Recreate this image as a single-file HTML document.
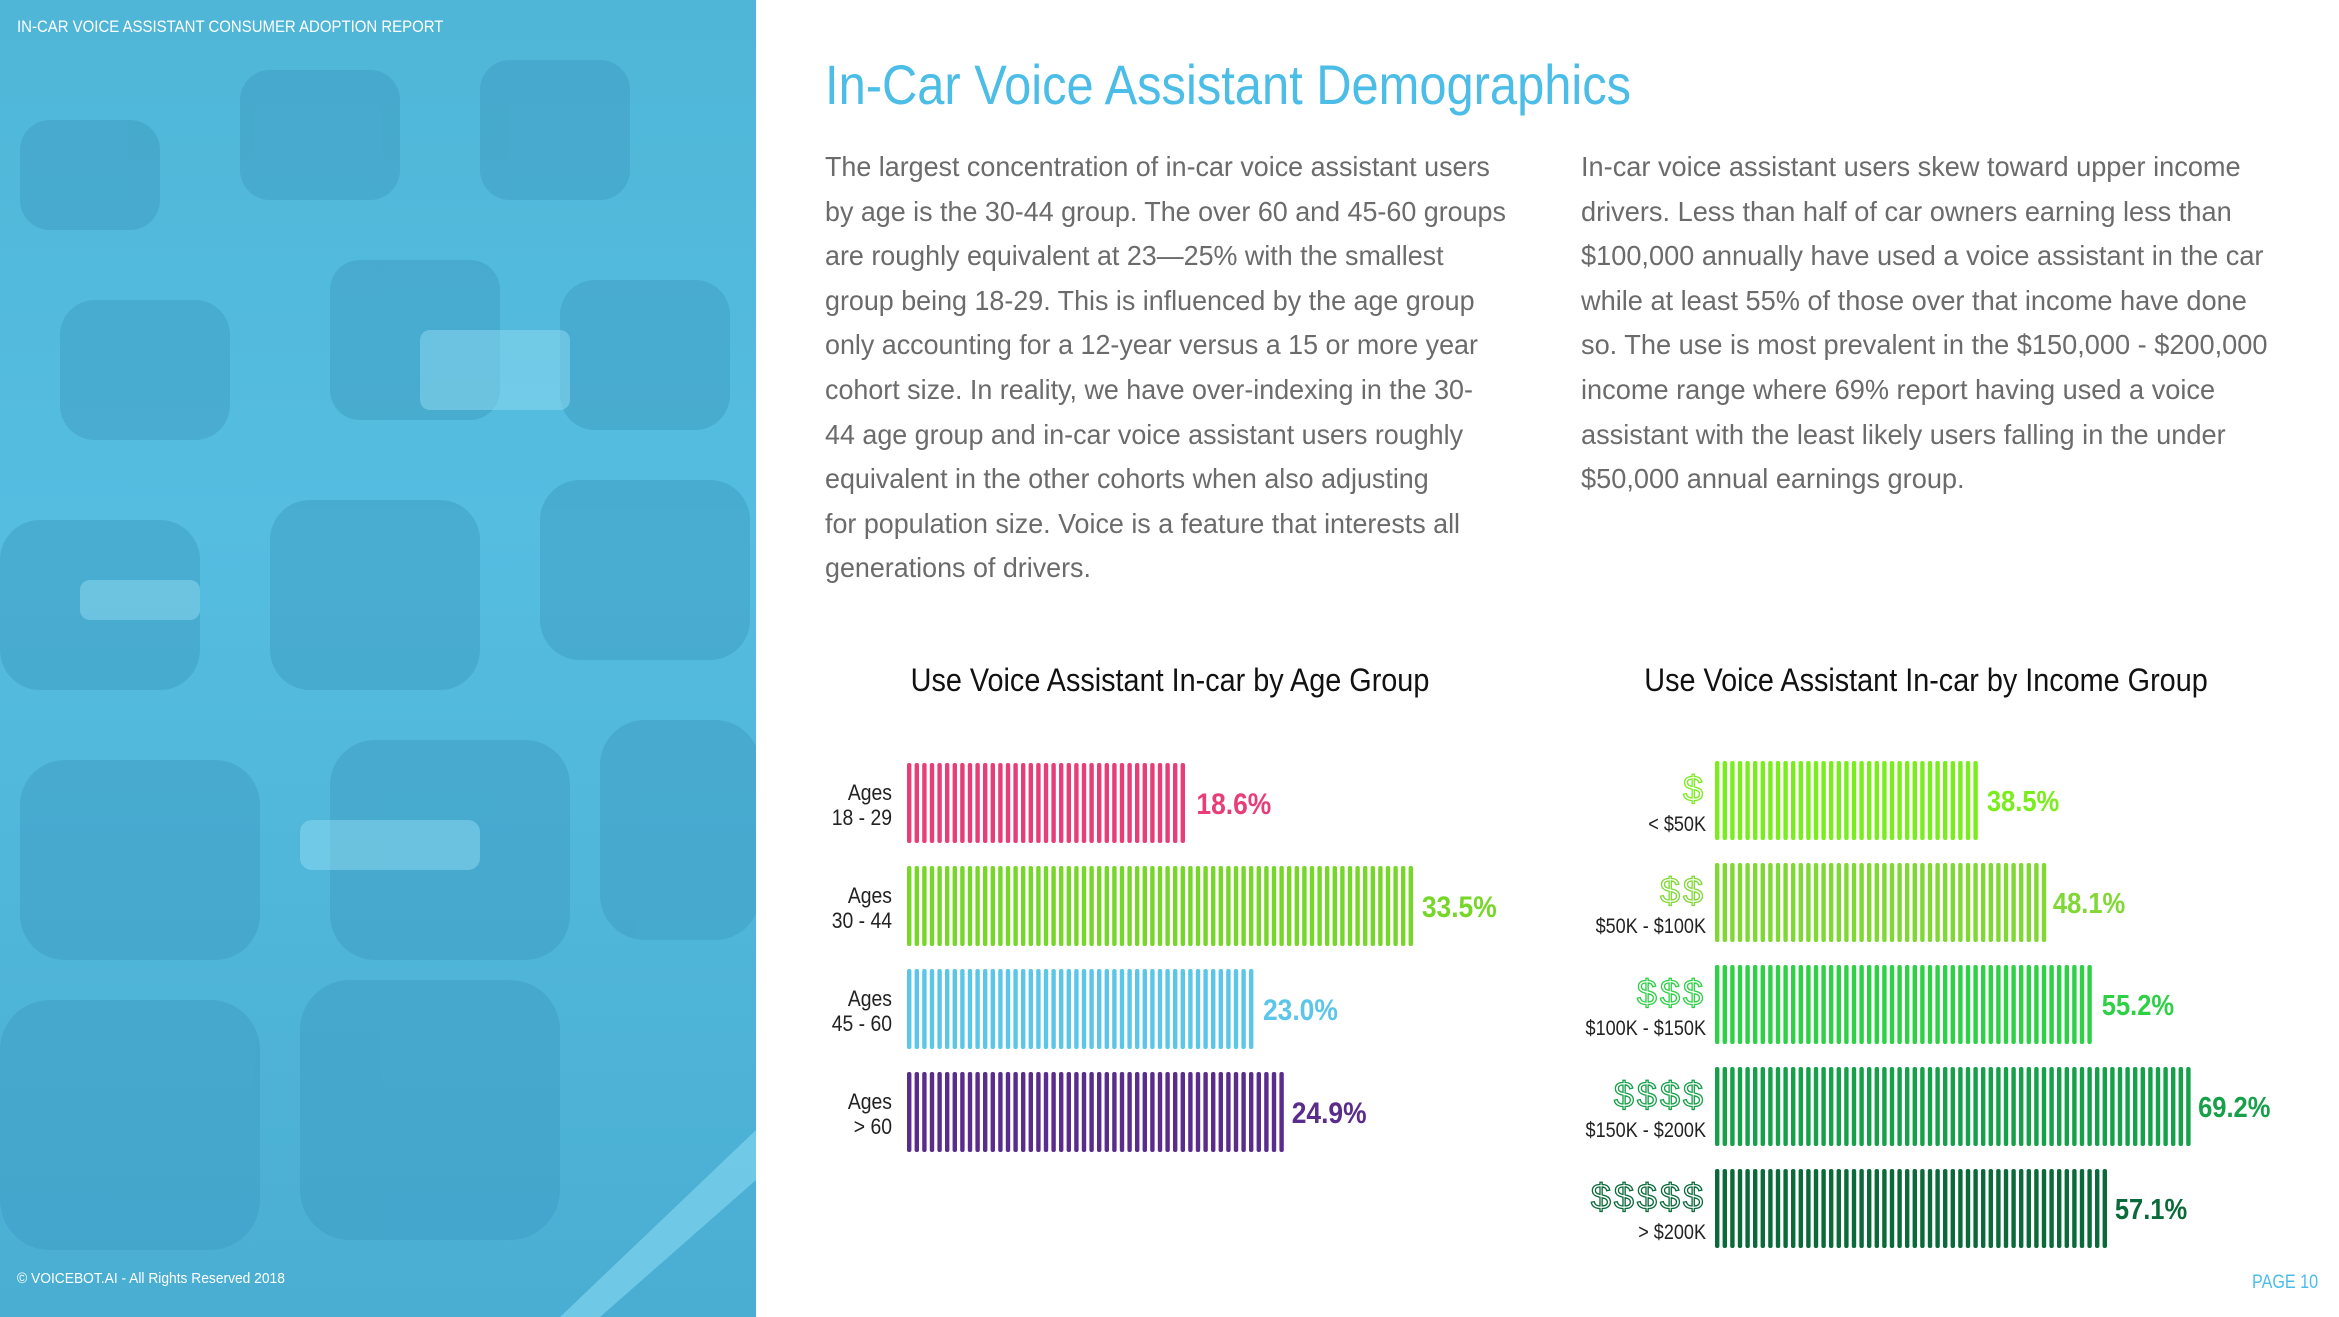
<!DOCTYPE html>
<html><head><meta charset="utf-8">
<style>
html,body{margin:0;padding:0;}
body{width:2339px;height:1317px;position:relative;overflow:hidden;background:#fff;font-family:"Liberation Sans",sans-serif;}
.abs{position:absolute;white-space:nowrap;}
#photo{position:absolute;left:0;top:0;width:756px;height:1317px;background:linear-gradient(180deg,#4fb6d8 0%,#55bde0 40%,#4aaed2 100%);overflow:hidden;}
.body-line{position:absolute;font-size:28px;color:#6b6b6b;font-weight:300;transform-origin:left top;white-space:nowrap;}
.lc{transform:scaleX(0.96);}
.rc{transform:scaleX(0.97);}
</style></head>
<body>
<div id="photo">
<svg width="756" height="1317">
<g fill="#3f9fc4" opacity="0.55">
<rect x="20" y="120" width="140" height="110" rx="30"/><rect x="240" y="70" width="160" height="130" rx="30"/><rect x="480" y="60" width="150" height="140" rx="30"/>
<rect x="60" y="300" width="170" height="140" rx="35"/><rect x="330" y="260" width="170" height="160" rx="30"/><rect x="560" y="280" width="170" height="150" rx="35"/>
<rect x="0" y="520" width="200" height="170" rx="40"/><rect x="270" y="500" width="210" height="190" rx="40"/><rect x="540" y="480" width="210" height="180" rx="40"/>
<rect x="20" y="760" width="240" height="200" rx="45"/><rect x="330" y="740" width="240" height="220" rx="45"/><rect x="600" y="720" width="160" height="220" rx="45"/>
<rect x="0" y="1000" width="260" height="250" rx="50"/><rect x="300" y="980" width="260" height="260" rx="50"/>
</g>
<g fill="#8fdcf2" opacity="0.5">
<rect x="420" y="330" width="150" height="80" rx="10"/><rect x="80" y="580" width="120" height="40" rx="10"/><rect x="300" y="820" width="180" height="50" rx="12"/>
</g>
<polygon points="560,1317 600,1317 756,1180 756,1130" fill="#7fd3ee" opacity="0.7"/>
</svg>
<div class="abs" style="left:17px;top:17px;font-size:17px;color:#fff;transform:scaleX(0.88);transform-origin:left top;">IN-CAR VOICE ASSISTANT CONSUMER ADOPTION REPORT</div>
<div class="abs" style="left:17px;top:1270px;font-size:15px;color:#fff;transform:scaleX(0.92);transform-origin:left top;">© VOICEBOT.AI - All Rights Reserved 2018</div>
</div>

<div class="abs" style="left:825px;top:52px;font-size:56px;color:#4bbde6;transform:scaleX(0.872);transform-origin:left top;">In-Car Voice Assistant Demographics</div>

<div>
<div class="body-line lc" style="left:825px;top:151px">The largest concentration of in-car voice assistant users</div>
<div class="body-line lc" style="left:825px;top:196px">by age is the 30-44 group. The over 60 and 45-60 groups</div>
<div class="body-line lc" style="left:825px;top:240px">are roughly equivalent at 23—25% with the smallest</div>
<div class="body-line lc" style="left:825px;top:285px">group being 18-29. This is influenced by the age group</div>
<div class="body-line lc" style="left:825px;top:329px">only accounting for a 12-year versus a 15 or more year</div>
<div class="body-line lc" style="left:825px;top:374px">cohort size. In reality, we have over-indexing in the 30-</div>
<div class="body-line lc" style="left:825px;top:419px">44 age group and in-car voice assistant users roughly</div>
<div class="body-line lc" style="left:825px;top:463px">equivalent in the other cohorts when also adjusting</div>
<div class="body-line lc" style="left:825px;top:508px">for population size. Voice is a feature that interests all</div>
<div class="body-line lc" style="left:825px;top:552px">generations of drivers.</div>
</div>
<div>
<div class="body-line rc" style="left:1581px;top:151px">In-car voice assistant users skew toward upper income</div>
<div class="body-line rc" style="left:1581px;top:196px">drivers. Less than half of car owners earning less than</div>
<div class="body-line rc" style="left:1581px;top:240px">$100,000 annually have used a voice assistant in the car</div>
<div class="body-line rc" style="left:1581px;top:285px">while at least 55% of those over that income have done</div>
<div class="body-line rc" style="left:1581px;top:329px">so. The use is most prevalent in the $150,000 - $200,000</div>
<div class="body-line rc" style="left:1581px;top:374px">income range where 69% report having used a voice</div>
<div class="body-line rc" style="left:1581px;top:419px">assistant with the least likely users falling in the under</div>
<div class="body-line rc" style="left:1581px;top:463px">$50,000 annual earnings group.</div>
</div>

<div class="abs" style="left:1170px;top:662px;font-size:32px;color:#111;transform:translateX(-50%) scaleX(0.9);">Use Voice Assistant In-car by Age Group</div>
<div class="abs" style="left:1926px;top:662px;font-size:32px;color:#111;transform:translateX(-50%) scaleX(0.9);">Use Voice Assistant In-car by Income Group</div>

<svg id="charts" class="abs" style="left:0;top:0" width="2339" height="1317"></svg>

<div class="abs" style="left:2252px;top:1272px;font-size:19px;color:#4bbde6;transform:scaleX(0.85);transform-origin:left top;">PAGE 10</div>

<script>
const ageCats = [["Ages","18 - 29"],["Ages","30 - 44"],["Ages","45 - 60"],["Ages","> 60"]];
const ageValues = [18.6, 33.5, 23.0, 24.9];
const ageColors = ["#e83e78","#76d62a","#5cc6e8","#5a2c8c"];
const incomeCats = ["< $50K","$50K - $100K","$100K - $150K","$150K - $200K","> $200K"];
const incomeDollars = [1,2,3,4,5];
const incomeValues = [38.5, 48.1, 55.2, 69.2, 57.1];
const incomeColors = ["#7aee1c","#7fd834","#2ed046","#16a04a","#0b6a3a"];

const NS = "http://www.w3.org/2000/svg";
const svg = document.getElementById("charts");
function mk(tag, attrs, parent){const e=document.createElementNS(NS,tag);for(const k in attrs)e.setAttribute(k,attrs[k]);(parent||svg).appendChild(e);return e;}

function stripedBar(g, x0, y, w, h, color){
  const period = 7.6, sw = 4.4;
  const n = Math.max(1, Math.round((w + (period - sw)) / period));
  for(let i=0;i<n;i++){
    const r = mk("rect",{x:x0+i*period,y:y,width:sw,height:h,rx:2,fill:color},g);
    
    
  }
}

// Age chart
const ageX = v => 907 + v * 15.13;
const ageY = i => 763 + i * 103;
ageValues.forEach((v,i)=>{
  const g = mk("g",{});
  
  
  const w = ageX(v) - ageX(0);
  stripedBar(g, ageX(0), ageY(i), w, 80, ageColors[i]);
  const t1 = mk("text",{x:892,y:ageY(i)+37,"text-anchor":"end","font-size":22,fill:"#222","font-family":"Liberation Sans, sans-serif",transform:`translate(${892*0.12},0) scale(0.88,1)`},g);
  t1.textContent = ageCats[i][0];
  
  
  const t2 = mk("text",{x:892,y:ageY(i)+62,"text-anchor":"end","font-size":22,fill:"#222","font-family":"Liberation Sans, sans-serif",transform:`translate(${892*0.12},0) scale(0.88,1)`},g);
  t2.textContent = ageCats[i][1];
  
  
  const xv = ageX(v)+8;
  const vl = mk("text",{x:xv,y:ageY(i)+51,"font-size":30,"font-weight":"bold",fill:ageColors[i],"font-family":"Liberation Sans, sans-serif",transform:`translate(${xv*0.12},0) scale(0.88,1)`},g);
  vl.textContent = v.toFixed(1)+"%";
  
  
});

// Income chart
const incX = v => 1715 + v * 6.88;
const incY = i => 761 + i * 102;
incomeValues.forEach((v,i)=>{
  const g = mk("g",{});
  
  
  const w = incX(v) - incX(0);
  stripedBar(g, incX(0), incY(i), w, 79, incomeColors[i]);
  const d = mk("text",{x:1706,y:incY(i)+40,"text-anchor":"end","font-size":36,fill:"#fff",stroke:incomeColors[i],"stroke-width":1.3,"font-family":"Liberation Sans, sans-serif","letter-spacing":"3"},g);
  d.textContent = "$".repeat(incomeDollars[i]);
  
  
  const t = mk("text",{x:1706,y:incY(i)+70,"text-anchor":"end","font-size":21,fill:"#222","font-family":"Liberation Sans, sans-serif",transform:`translate(${1706*0.14},0) scale(0.86,1)`},g);
  t.textContent = incomeCats[i];
  
  
  const xv = incX(v)+7;
  const vl = mk("text",{x:xv,y:incY(i)+50,"font-size":29,"font-weight":"bold",fill:incomeColors[i],"font-family":"Liberation Sans, sans-serif",transform:`translate(${xv*0.12},0) scale(0.88,1)`},g);
  vl.textContent = v.toFixed(1)+"%";
  
  
});
</script>
</body></html>
